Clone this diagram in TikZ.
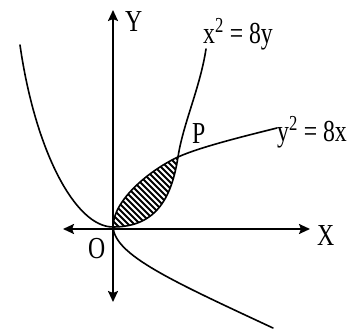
\documentclass[tikz,border=0pt]{standalone}
\usepackage{fontspec}
\setmainfont{Liberation Serif}
\usetikzlibrary{arrows.meta}
\newcommand\lbltxt[1]{\scalebox{0.88}[1.13]{#1}}
\begin{document}
\begin{tikzpicture}[x=1pt,y=-1pt,
  curve/.style={line width=1.6pt, line cap=round},
  axis/.style={line width=2pt, {Stealth[length=11pt,width=10pt,inset=2pt]}-{Stealth[length=11pt,width=10pt,inset=2pt]}},
  lbl/.style={font=\fontsize{27}{30}\selectfont, inner sep=0pt, anchor=base west},
  hatch/.style={line width=2pt}]
\useasboundingbox (0,0) rectangle (354,332);
\coordinate (O) at (113,227);
\coordinate (P) at (178,157);
\coordinate (L1) at (20,45);
\coordinate (T) at (206,49);
\coordinate (E) at (277,128);
\coordinate (B) at (273,328);
\coordinate (Ytop) at (113,10);
\coordinate (Ybot) at (113,302);
\coordinate (Xl) at (63,229);
\coordinate (Xr) at (310,229);
% hatched region
\begin{scope}
\clip (O) .. controls (113,200) and (150,170) .. (P) .. controls (172,195) and (158,227) .. (O) -- cycle;
\foreach \c in {-120,-114,...,30} \draw[hatch] (\c+100,100) -- (\c+300,300);
\end{scope}
% axes
\draw[axis] (Xl) -- (Xr);
\draw[axis] (Ybot) -- (Ytop);
% x^2 = 8y
\draw[curve] (L1) .. controls (35,150) and (75,227) .. (O) .. controls (158,227) and (172,195) .. (P) .. controls (183,124) and (200,88) .. (T);
% y^2 = 8x
\draw[curve] (E) .. controls (245,136) and (200,147) .. (P) .. controls (150,170) and (113,200) .. (O) .. controls (115,255) and (170,280) .. (B);
% labels
\node[lbl] (ylab) at (125,31) {\lbltxt{Y}};
\node[lbl] (xlab) at (317,245) {\lbltxt{X}};
\node[lbl] (olab) at (88,258) {\lbltxt{O}};
\node[lbl] (plab) at (192,143) {\lbltxt{P}};
\node[lbl] (c1lab) at (203,43) {\lbltxt{x\textsuperscript{2} = 8y}};
\node[lbl] (c2lab) at (277,141) {\lbltxt{y\textsuperscript{2} = 8x}};
\end{tikzpicture}
\end{document}
